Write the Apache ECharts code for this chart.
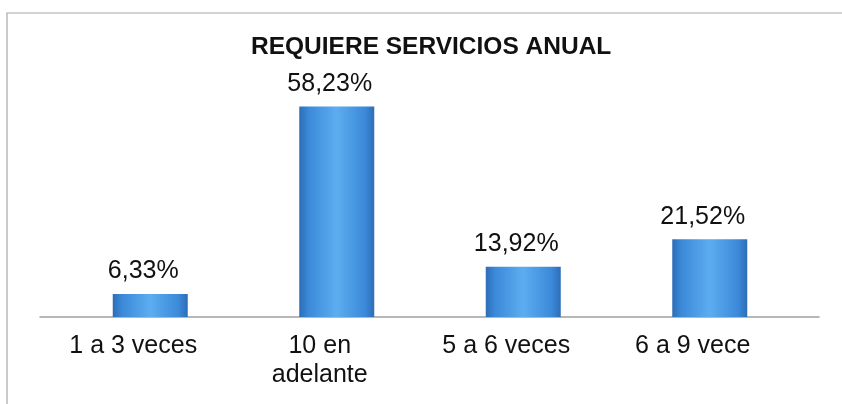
<!DOCTYPE html>
<html>
<head>
<meta charset="utf-8">
<script src="https://cdn.jsdelivr.net/npm/echarts@6/dist/echarts.min.js"></script>
<style>
  html, body { margin: 0; padding: 0; background: #ffffff; }
  #chart { width: 842px; height: 404px; }
</style>
</head>
<body>
<div id="chart"></div>
<script>
// Frecuencia anual de servicios requeridos (% de encuestados)
const categories = ['1 a 3 veces', '10 en\nadelante', '5 a 6 veces', '6 a 9 vece'];
const percentages = [6.33, 58.23, 13.92, 21.52];
const titleText = 'REQUIERE SERVICIOS ANUAL';

const chart = echarts.init(document.getElementById('chart'), null, { renderer: 'canvas' });

// Cylinder-like shading across each bar
const barFill = new echarts.graphic.LinearGradient(0, 0, 1, 0, [
  { offset: 0, color: '#2d6db5' },
  { offset: 0.12, color: '#3b89d9' },
  { offset: 0.5, color: '#5cadf0' },
  { offset: 0.88, color: '#3b89d9' },
  { offset: 1, color: '#2d6db5' }
]);

const fmt = v => v.toFixed(2).replace('.', ',') + '%';

chart.setOption({
  animation: false,
  backgroundColor: '#ffffff',
  title: {
    text: titleText,
    left: 246,
    top: 30,
    textStyle: {
      fontFamily: '"Liberation Sans", Arial, sans-serif',
      fontWeight: 'bold',
      fontSize: 24.5,
      color: '#111111'
    }
  },
  graphic: [{
    type: 'rect',
    shape: { x: 7, y: 13, width: 900, height: 500 },
    style: { fill: 'none', stroke: '#a8a8a8', lineWidth: 1.2 },
    silent: true
  }],
  grid: [
    { left: 57, right: 39, top: 100, bottom: 87 },
    { left: 40, right: 23, top: 100, bottom: 87 }
  ],
  xAxis: [{
    type: 'category',
    gridIndex: 0,
    data: categories,
    axisLine: { show: false },
    axisTick: { show: false },
    axisLabel: {
      margin: 15,
      padding: [0, 34, 0, 0],
      fontFamily: '"Liberation Sans", Arial, sans-serif',
      fontSize: 25,
      lineHeight: 29,
      color: '#111111',
      interval: 0
    }
  }, {
    type: 'value',
    gridIndex: 1,
    min: 0,
    max: 1,
    axisLine: { show: true, lineStyle: { color: '#a0a0a0', width: 1.5 } },
    axisTick: { show: false },
    axisLabel: { show: false },
    splitLine: { show: false }
  }],
  yAxis: [{
    type: 'value',
    gridIndex: 0,
    min: 0,
    max: 60,
    show: false
  }, {
    type: 'value',
    gridIndex: 1,
    min: 0,
    max: 1,
    show: false
  }],
  series: [{
    type: 'bar',
    xAxisIndex: 0,
    yAxisIndex: 0,
    data: percentages,
    barWidth: 75,
    z: 3,
    itemStyle: { color: barFill },
    label: {
      show: true,
      position: 'top',
      distance: 10,
      offset: [-7, 0],
      formatter: p => fmt(p.value),
      fontFamily: '"Liberation Sans", Arial, sans-serif',
      fontSize: 25,
      color: '#111111'
    }
  }]
});
</script>
</body>
</html>
